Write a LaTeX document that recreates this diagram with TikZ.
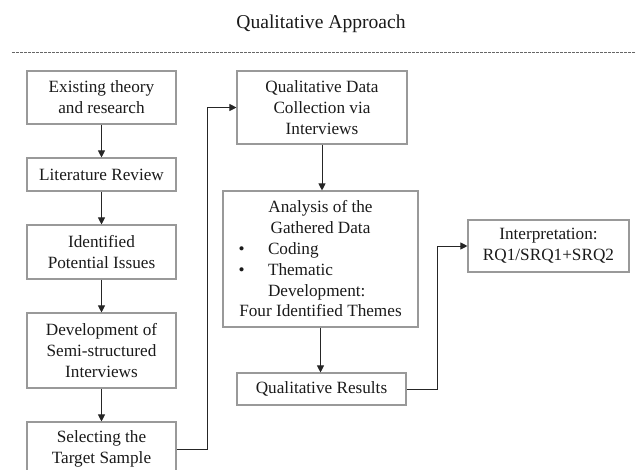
\documentclass[tikz,border=0pt]{standalone}
\usepackage{fontspec}
\setmainfont{Liberation Serif}
\usetikzlibrary{arrows.meta}
\definecolor{boxgray}{HTML}{999999}
\definecolor{txt}{HTML}{1A1A1A}
\tikzset{
  box/.style={draw=boxgray, line width=1.1pt, rectangle, inner sep=0pt, align=center,
    text=txt, font=\fontsize{17.2}{20.8}\selectfont},
  arr/.style={draw=black!85, line width=0.9pt, -{Triangle[length=7pt,width=7pt]}},
  ln/.style={draw=black!85, line width=0.9pt}
}
\begin{document}
\begin{tikzpicture}[x=1pt,y=-1pt]
\useasboundingbox (0,0) rectangle (636,469);
\clip (0,0) rectangle (636,469);
\node[text=txt, font=\fontsize{19.6}{22}\selectfont] (title) at (321,24) {Qualitative Approach};
\coordinate (dl) at (12,52);
\coordinate (dr) at (636,52);
\draw[black!60, line width=0.7pt, dash pattern=on 2.5pt off 1.5pt] (dl) -- (dr);

% left column
\node[box, minimum width=149pt, minimum height=53pt] (b1) at (101.5,97.5) {Existing theory\\and research};
\node[box, minimum width=149pt, minimum height=33pt] (b2) at (101.5,174.5) {Literature Review};
\node[box, minimum width=149pt, minimum height=54pt] (b3) at (101.5,252) {Identified\\Potential Issues};
\node[box, minimum width=149pt, minimum height=75pt] (b4) at (101.5,350.5) {Development of\\Semi-structured\\Interviews};
\node[box, minimum width=149pt, minimum height=54pt] (b5) at (101.5,449) {Selecting the\\Target Sample};

% middle column
\node[box, minimum width=170pt, minimum height=73pt] (c1) at (322,107.5) {Qualitative Data\\Collection via\\Interviews};
\node[box, minimum width=195pt, minimum height=136pt] (c2) at (320.5,259) {Analysis of the\\Gathered Data\\
  \makebox[164pt][l]{\makebox[29.5pt][l]{\textbullet}Coding}\\
  \makebox[164pt][l]{\makebox[29.5pt][l]{\textbullet}Thematic}\\
  \makebox[164pt][l]{\hspace*{29.5pt}Development:}\\
  Four Identified Themes};
\node[box, minimum width=169pt, minimum height=32pt] (c3) at (321.5,389) {Qualitative Results};

% right
\node[box, minimum width=161pt, minimum height=52pt] (d1) at (548.5,246) {Interpretation:\\RQ1/SRQ1+SRQ2};

% connectors
\draw[arr] (b1.south) -- (b2.north);
\draw[arr] (b2.south) -- (b3.north);
\draw[arr] (b3.south) -- (b4.north);
\draw[arr] (b4.south) -- (b5.north);
\draw[arr] (b5.east) -- ++(31,0) |- (c1.west);
\draw[arr] (c1.south) -- (c1.south |- c2.north);
\draw[arr] (c2.south) -- (c2.south |- c3.north);
\draw[arr] (c3.east) -- ++(31,0) |- (d1.west);
\end{tikzpicture}
\end{document}
